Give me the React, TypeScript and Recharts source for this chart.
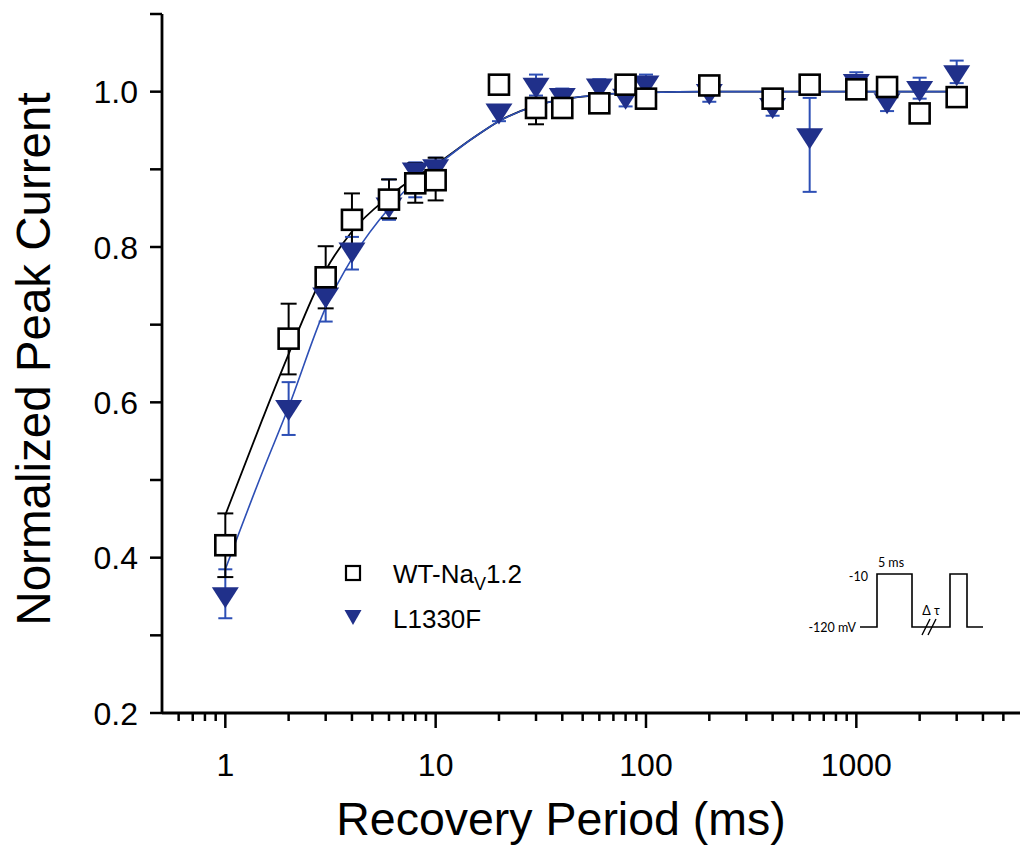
import React from 'react';
import { ComposedChart, XAxis, YAxis, Line, Scatter, ErrorBar } from 'recharts';

// recovery period (ms)
const periods = [1, 2, 3, 4, 6, 8, 10, 20, 30, 40, 60, 80, 100, 200, 400, 600, 1000, 1400, 2000, 3000];

// WT-NaV1.2, mean and [below, above] SEM
const wtCurrent = [0.416, 0.682, 0.761, 0.835, 0.861, 0.882, 0.886, 1.009, 0.979, 0.979, 0.985, 1.009, 0.991, 1.008, 0.991, 1.009, 1.003, 1.006, 0.972, 0.993];
const wtSem = [
  [0.041, 0.041], [0.046, 0.045], [0.04, 0.04], [0.033, 0.034], [0.024, 0.026], [0.025, 0.026], [0.026, 0.029],
  [0.008, 0.008], [0.021, 0.01], [0.012, 0.01], [0.01, 0.008], [0.008, 0.008], [0.01, 0.008], [0.008, 0.008],
  [0.01, 0.008], [0.008, 0.008], [0.01, 0.008], [0.008, 0.008], [0.008, 0.008], [0.008, 0.008],
];

// L1330F
const mutCurrent = [0.349, 0.59, 0.735, 0.793, 0.851, 0.896, 0.9, 0.972, 1.005, 0.992, 1.004, 0.991, 1.008, 0.997, 0.979, 0.94, 1.01, 0.985, 1.001, 1.021];
const mutSem = [
  [0.027, 0.036], [0.032, 0.036], [0.031, 0.03], [0.022, 0.02], [0.016, 0.036], [0.032, 0.013], [0.01, 0.015],
  [0.01, 0.01], [0.01, 0.017], [0.01, 0.012], [0.01, 0.012], [0.01, 0.01], [0.01, 0.014], [0.01, 0.01],
  [0.01, 0.01], [0.069, 0.052], [0.01, 0.015], [0.01, 0.01], [0.01, 0.017], [0.01, 0.019],
];

// fitted curves
const fitPeriods = [1, 1.5, 2, 3, 4, 6, 8, 10, 15, 20, 30, 40, 60, 100, 200, 3000];
const wtFit = [0.455, 0.578, 0.662, 0.77, 0.82, 0.865, 0.89, 0.906, 0.94, 0.962, 0.982, 0.99, 0.996, 0.999, 1.0, 1.0];
const mutFit = [0.385, 0.51, 0.594, 0.722, 0.785, 0.85, 0.885, 0.904, 0.94, 0.962, 0.982, 0.99, 0.996, 0.999, 1.0, 1.0];

const decadeTicks = [1, 10, 100, 1000];
const xTicks = [
  0.6, 0.7, 0.8, 0.9, 1, 2, 3, 4, 5, 6, 7, 8, 9, 10, 20, 30, 40, 50, 60, 70, 80, 90, 100,
  200, 300, 400, 500, 600, 700, 800, 900, 1000, 2000, 3000, 4000, 5000,
];
const yTicks = [0.2, 0.3, 0.4, 0.5, 0.6, 0.7, 0.8, 0.9, 1.0, 1.1];
const yLabels = [0.2, 0.4, 0.6, 0.8, 1.0];

const NAVY = '#20308a';
const BLUE = '#2d4fb5';
const FONT = '"Liberation Sans", Arial, sans-serif';
const X_DOMAIN = [0.5, 6000];
const Y_DOMAIN = [0.2, 1.1];

const wtData = periods.map((x, i) => ({ x, y: wtCurrent[i], err: wtSem[i] }));
const mutData = periods.map((x, i) => ({ x, y: mutCurrent[i], err: mutSem[i] }));
const wtFitData = fitPeriods.map((x, i) => ({ x, y: wtFit[i] }));
const mutFitData = fitPeriods.map((x, i) => ({ x, y: mutFit[i] }));

const NoMark = () => null;

const SquareMark = (props: any) => {
  const { cx, cy } = props;
  if (cx == null || cy == null) return null;
  return <rect x={cx - 10} y={cy - 10} width={20} height={20} fill="#fff" stroke="#000" strokeWidth={2.6} />;
};

const TriangleMark = (props: any) => {
  const { cx, cy } = props;
  if (cx == null || cy == null) return null;
  return <path d={`M${cx - 13.5},${cy - 10}L${cx + 13.5},${cy - 10}L${cx},${cy + 11}Z`} fill={NAVY} />;
};

const XTick = ({ x, y, payload }: any) => {
  const major = decadeTicks.includes(payload.value);
  return (
    <g>
      <line x1={x} x2={x} y1={y} y2={y + (major ? 15 : 8)} stroke="#000" strokeWidth={2.5} />
      {major && (
        <text x={x} y={y + 63} textAnchor="middle" fontSize={32} fontFamily={FONT} fill="#000">
          {payload.value}
        </text>
      )}
    </g>
  );
};

const YTick = ({ x, y, payload }: any) => {
  const v = payload.value;
  const labelled = yLabels.some((l) => Math.abs(l - v) < 1e-6);
  return (
    <g>
      <line x1={x} x2={x - 12} y1={y} y2={y} stroke="#000" strokeWidth={2.5} />
      {labelled && (
        <text x={x - 24} y={y + 11.5} textAnchor="end" fontSize={32} fontFamily={FONT} fill="#000">
          {v.toFixed(1)}
        </text>
      )}
    </g>
  );
};

// legend, axis titles and the pulse protocol inset
const Overlay = () => (
  <svg width={1020} height={848} style={{ position: 'absolute', left: 0, top: 0, pointerEvents: 'none' }}>
    <text x={561} y={835} textAnchor="middle" fontSize={46.5} fontFamily={FONT} fill="#000">
      Recovery Period (ms)
    </text>
    <text transform="translate(50,359) rotate(-90)" textAnchor="middle" fontSize={47.5} fontFamily={FONT} fill="#000">
      Normalized Peak Current
    </text>

    <rect x={346} y={566} width={14} height={14} fill="#fff" stroke="#000" strokeWidth={2.2} />
    <text x={393} y={583} fontSize={26} fontFamily={FONT} fill="#000">
      WT-Na<tspan dy={7} fontSize={18}>V</tspan><tspan dy={-7}>1.2</tspan>
    </text>
    <path d="M344.5,610L361.5,610L353,625Z" fill={NAVY} />
    <text x={393} y={628} fontSize={26} fontFamily={FONT} fill="#000">L1330F</text>

    <g fontFamily="Lato, 'DejaVu Sans', sans-serif" fontSize={12.5} fill="#000">
      <text x={868} y={581} textAnchor="end">-10</text>
      <text x={891} y={567} textAnchor="middle">5 ms</text>
      <text x={856} y={632} textAnchor="end">-120 mV</text>
      <text x={931} y={615} textAnchor="middle">Δ τ</text>
    </g>
    <path d="M860,627H877V574H912V627H950V574H967V627H983" fill="none" stroke="#000" strokeWidth={1.6} />
    <path d="M922,635L930,619M928,635L936,619" fill="none" stroke="#000" strokeWidth={1.4} />
  </svg>
);

export default function App() {
  return (
    <div style={{ position: 'absolute', left: 0, top: 0, width: 1020, height: 848, background: '#fff' }}>
      {/* base layer: axes, fitted curves and SEM bars */}
      <ComposedChart width={1020} height={848} margin={{ top: 14, right: 0, bottom: 0, left: 0 }} style={{ fontFamily: FONT }}>
        <XAxis
          type="number"
          dataKey="x"
          scale="log"
          domain={X_DOMAIN}
          allowDataOverflow
          ticks={xTicks}
          interval={0}
          height={135}
          tickSize={0}
          tickMargin={0}
          tickLine={false}
          axisLine={{ stroke: '#000', strokeWidth: 2.8 }}
          tick={<XTick />}
        />
        <YAxis
          type="number"
          dataKey="y"
          domain={Y_DOMAIN}
          allowDataOverflow
          ticks={yTicks}
          interval={0}
          width={162}
          tickSize={0}
          tickMargin={0}
          tickLine={false}
          axisLine={{ stroke: '#000', strokeWidth: 2.8 }}
          tick={<YTick />}
        />
        <Line data={wtFitData} dataKey="y" type="monotone" stroke="#000" strokeWidth={1.8} dot={false} legendType="none" isAnimationActive={false} />
        <Line data={mutFitData} dataKey="y" type="monotone" stroke={BLUE} strokeWidth={1.6} dot={false} legendType="none" isAnimationActive={false} />
        <Scatter data={mutData} dataKey="y" shape={<NoMark />} legendType="none" isAnimationActive={false}>
          <ErrorBar dataKey="err" direction="y" width={7} stroke={BLUE} strokeWidth={2} />
        </Scatter>
        <Scatter data={wtData} dataKey="y" shape={<NoMark />} legendType="none" isAnimationActive={false}>
          <ErrorBar dataKey="err" direction="y" width={8} stroke="#000" strokeWidth={2} />
        </Scatter>
      </ComposedChart>

      {/* top layer: markers, same plot area, so they cover the bars */}
      <div style={{ position: 'absolute', left: 0, top: 0 }}>
        <ComposedChart width={1020} height={848} margin={{ top: 14, right: 0, bottom: 135, left: 162 }}>
          <XAxis type="number" dataKey="x" scale="log" domain={X_DOMAIN} allowDataOverflow hide />
          <YAxis type="number" dataKey="y" domain={Y_DOMAIN} allowDataOverflow hide />
          <Scatter name="L1330F" data={mutData} dataKey="y" shape={<TriangleMark />} isAnimationActive={false} />
          <Scatter name="WT-NaV1.2" data={wtData} dataKey="y" shape={<SquareMark />} isAnimationActive={false} />
        </ComposedChart>
      </div>
      <Overlay />
    </div>
  );
}
